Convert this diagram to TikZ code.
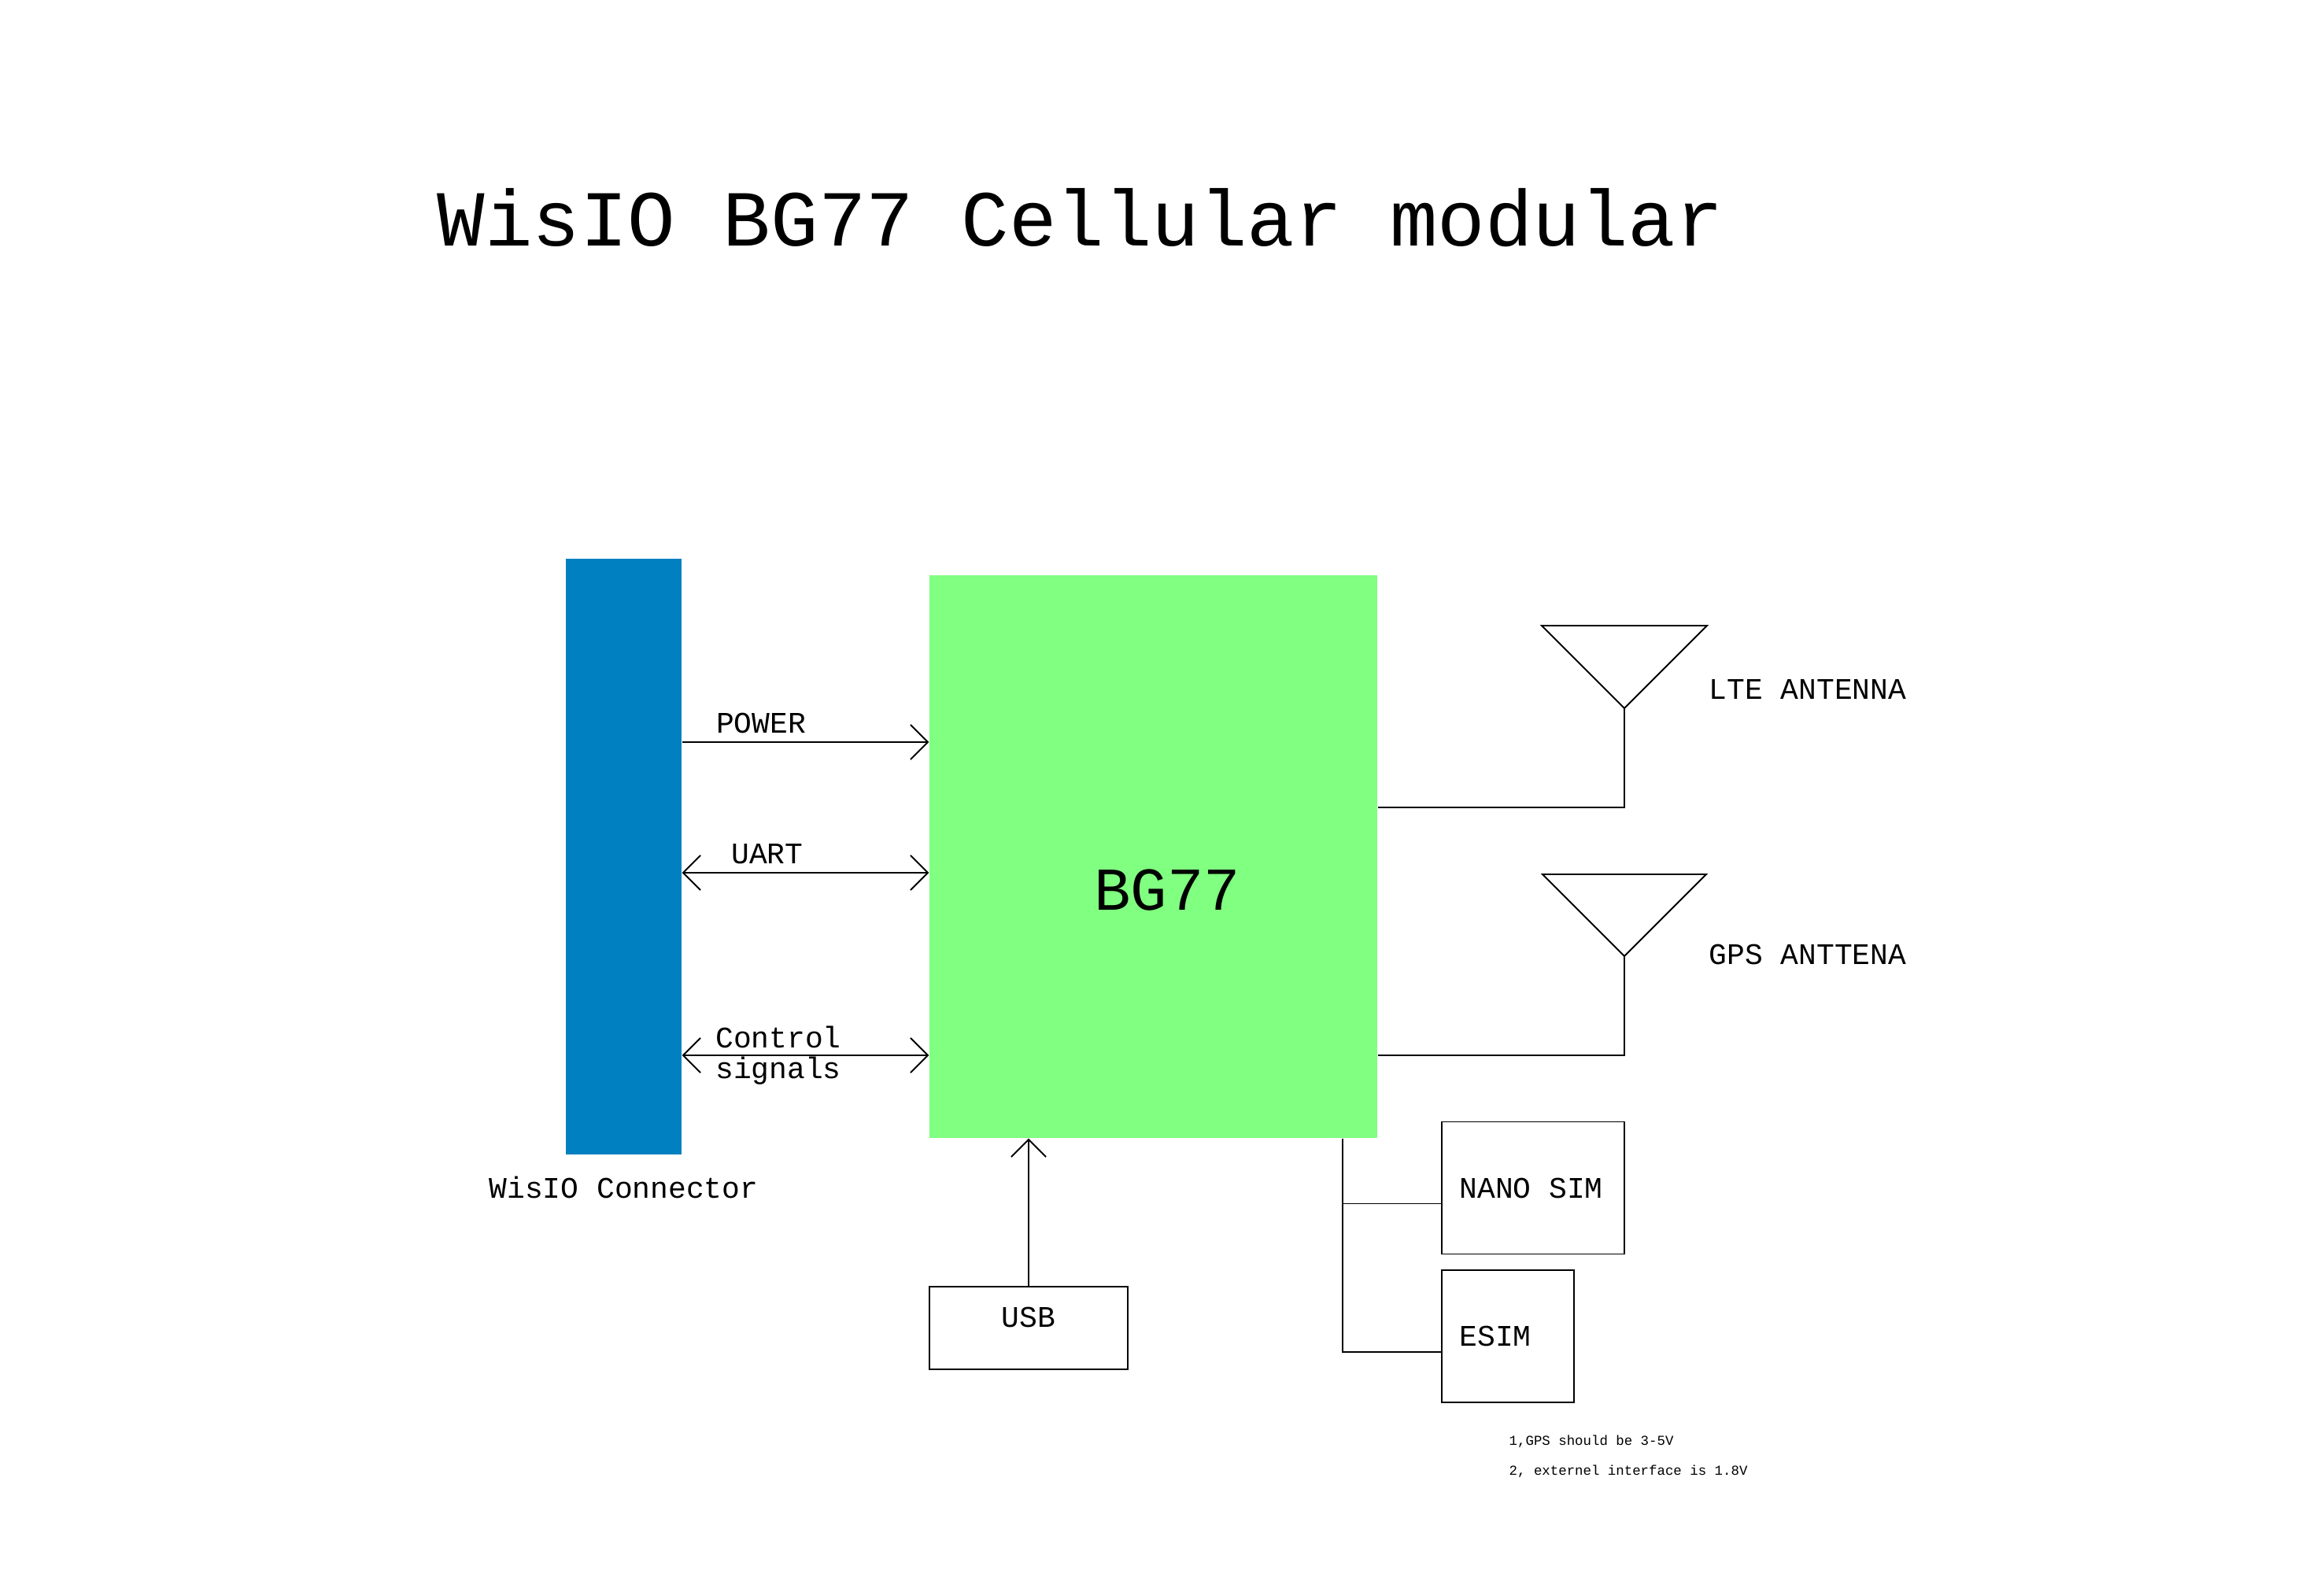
\documentclass[tikz,border=0pt]{standalone}
\usepackage{fontspec}
\setmainfont{Liberation Mono}
\usetikzlibrary{arrows.meta,positioning}
\definecolor{wisblue}{RGB}{0,128,192}
\definecolor{chipgreen}{RGB}{128,255,128}

\begin{document}
\begin{tikzpicture}
  [every node/.style={inner sep=0pt,font=\fontsize{10.8}{11.1}\selectfont},
   wire/.style={line width=0.55pt},
   sig/.style={wire,-{Straight Barb[length=2.2mm,width=4.4mm]}},
   bisig/.style={wire,{Straight Barb[length=2.2mm,width=4.4mm]}-{Straight Barb[length=2.2mm,width=4.4mm]}},
   simbox/.style={draw,line width=0.55pt,minimum height=16.8mm,inner xsep=2.26mm}]
  \useasboundingbox (0,0) rectangle (29.53,20.08);

  \node[anchor=base,font=\fontsize{28.7}{30}\selectfont] (title) at (13.73,16.95) {WisIO BG77 Cellular modular};

  \node[fill=wisblue,minimum width=14.7mm,minimum height=75.7mm] (conn) at (7.925,9.195) {};
  \node[below=2.7mm of conn] (connlbl) {WisIO Connector};

  \node[fill=chipgreen,minimum width=56.9mm,minimum height=71.5mm] (bg77) at (14.655,9.195) {};
  \node[anchor=base,font=\fontsize{22}{24}\selectfont] (bg77lbl) at (14.83,8.52) {BG77};

  \draw[sig] ([yshift=14.55mm]conn.east) -- node[pos=.32,above=1mm] {POWER} ([yshift=14.55mm]bg77.west);
  \draw[bisig] ([yshift=-2.05mm]conn.east) -- node[pos=.345,above=1mm] {UART} ([yshift=-2.05mm]bg77.west);
  \draw[bisig] ([yshift=-25.25mm]conn.east) -- node[pos=.39,align=left] {Control\\signals} ([yshift=-25.25mm]bg77.west);

  \node[draw,line width=0.55pt,minimum width=25.2mm,minimum height=10.5mm,text height=2.7mm,text depth=2.9mm] (usb) at (13.07,3.205) {USB};
  \draw[sig] (usb) -- (usb |- bg77.south);

  % antennas
  \coordinate (lte) at (20.64,11.08);
  \draw[wire] (lte) -- ++(-1.05,1.05) -- ++(2.1,0) -- cycle;
  \draw[wire] (lte) |- ([yshift=6.25mm]bg77.east);
  \node[anchor=base west] (ltelbl) at (21.71,11.19) {LTE ANTENNA};

  \coordinate (gps) at (20.64,7.93);
  \draw[wire] (gps) -- ++(-1.04,1.04) -- ++(2.08,0) -- cycle;
  \draw[wire] (gps) |- ([yshift=-25.25mm]bg77.east);
  \node[anchor=base west] (gpslbl) at (21.71,7.83) {GPS ANTTENA};

  % sim
  \node[simbox] (nano) at (19.48,4.985) {\makebox[18.7mm][l]{NANO SIM}};
  \node[simbox] (esim) at (19.16,3.10) {\makebox[12.3mm][l]{ESIM}};
  \coordinate (simtap) at ([xshift=24.05mm]bg77.south);
  \draw[wire] (simtap) |- ([yshift=-2mm]esim.west);
  \draw[wire] ([yshift=-2mm]nano.west) -- ++(-1.26,0);

  \node[anchor=west,align=left,font=\fontsize{4.95}{10.8}\selectfont] (notes) at (19.17,1.57) {1,GPS should be 3-5V\\2, externel interface is 1.8V};
\end{tikzpicture}
\end{document}
